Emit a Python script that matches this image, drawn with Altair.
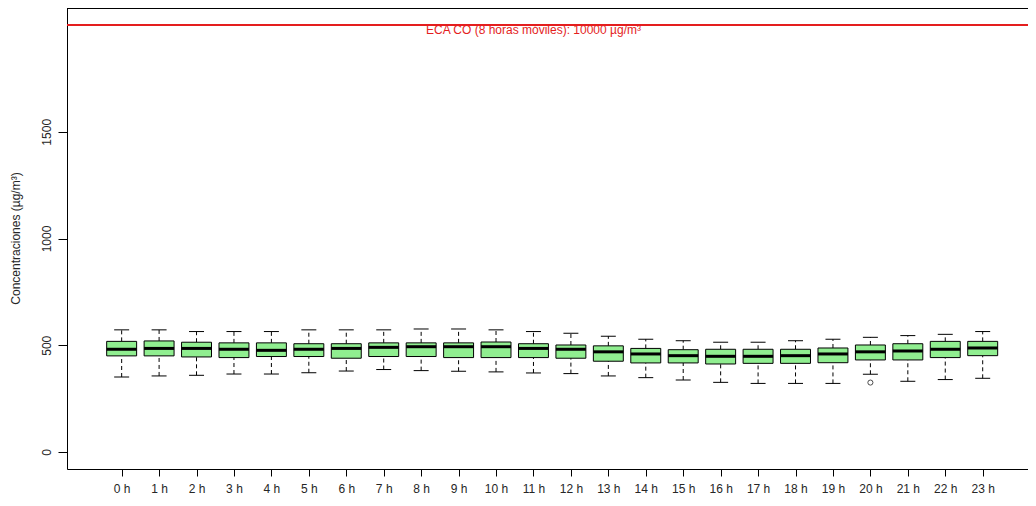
import altair as alt
import pandas as pd

hours = list(range(24))
upper = [572, 572, 564, 564, 564, 572, 572, 572, 576, 576, 572, 564, 556, 542, 528, 521, 514, 514, 521, 528, 537, 545, 551, 564]
q3 = [518, 520, 514, 511, 511, 507, 507, 511, 511, 511, 515, 507, 501, 497, 485, 479, 481, 481, 481, 487, 501, 507, 518, 518]
median = [481, 485, 485, 481, 476, 481, 485, 490, 493, 493, 493, 485, 481, 469, 459, 451, 448, 448, 451, 459, 469, 473, 481, 487]
q1 = [450, 450, 445, 442, 447, 447, 439, 447, 447, 442, 442, 442, 439, 425, 417, 417, 412, 415, 415, 418, 431, 431, 442, 451]
lower = [351, 356, 359, 365, 365, 371, 379, 386, 381, 378, 375, 370, 367, 356, 348, 337, 326, 321, 321, 321, 364, 331, 339, 345]
outlier_hours = [20]
outlier_values = [325]
y_ticks = [0, 500, 1000, 1500]
limit_value = [2000]
limit_label = ["ECA CO (8 horas móviles): 10000 µg/m³"]
limit_label_hour = [11]

FONT = "Liberation Sans"
TXT = "#262626"

df = pd.DataFrame(dict(hour=hours, lower=lower, q1=q1, median=median, q3=q3, upper=upper))
out_df = pd.DataFrame(dict(hour=outlier_hours, value=outlier_values))
lim_df = pd.DataFrame(dict(v=limit_value, hour=limit_label_hour, t=limit_label))

xs = alt.Scale(domain=[-1.46, 24.21], nice=False, zero=False)
ys = alt.Scale(domain=[-80, 2080], nice=False, zero=False)

x_axis = alt.Axis(values=hours, labelExpr="datum.value + ' h'", title=None, grid=False,
                  tickSize=7, labelPadding=7, domainColor="black", tickColor="black",
                  labelColor=TXT, labelFontSize=12, labelFont=FONT,
                  labelFontWeight="normal",
                  labelFlush=False, labelOverlap=False)
y_axis = alt.Axis(values=y_ticks, format="d", title="Concentraciones (µg/m³)", grid=False,
                  tickSize=9, labelPadding=5, labelAngle=270, labelAlign="center",
                  labelBaseline="bottom", domainColor="black", tickColor="black",
                  labelColor=TXT, labelFontSize=12, labelFont=FONT,
                  labelFontWeight="normal",
                  titleFont=FONT, titleFontSize=12, titleFontWeight="normal",
                  titleColor=TXT, titleAngle=270, titleAlign="center",
                  titleBaseline="bottom", titleX=-45, titleY=230)

base = alt.Chart(df).transform_calculate(
    xl="datum.hour - 0.4", xr="datum.hour + 0.4",
    cl="datum.hour - 0.2", cr="datum.hour + 0.2")

whisk_lo = base.mark_rule(color="black", strokeDash=[4, 3]).encode(
    x=alt.X("hour:Q", scale=xs, axis=x_axis),
    y=alt.Y("lower:Q", scale=ys, axis=y_axis), y2="q1:Q")
whisk_hi = base.mark_rule(color="black", strokeDash=[4, 3]).encode(
    x=alt.X("hour:Q", scale=xs), y=alt.Y("q3:Q", scale=ys), y2="upper:Q")
cap_lo = base.mark_rule(color="black").encode(
    x=alt.X("cl:Q", scale=xs), x2="cr:Q", y=alt.Y("lower:Q", scale=ys))
cap_hi = base.mark_rule(color="black").encode(
    x=alt.X("cl:Q", scale=xs), x2="cr:Q", y=alt.Y("upper:Q", scale=ys))
boxes = base.mark_bar(fill="#90EE90", stroke="black", strokeWidth=1).encode(
    x=alt.X("xl:Q", scale=xs), x2="xr:Q", y=alt.Y("q1:Q", scale=ys), y2="q3:Q")
med = base.mark_rule(color="black", strokeWidth=3).encode(
    x=alt.X("xl:Q", scale=xs), x2="xr:Q", y=alt.Y("median:Q", scale=ys))
outl = alt.Chart(out_df).mark_point(shape="circle", filled=False, color="black",
                                    size=26, strokeWidth=1).encode(
    x=alt.X("hour:Q", scale=xs), y=alt.Y("value:Q", scale=ys))

lim_line = alt.Chart(lim_df).mark_rule(color="#e41e1e", strokeWidth=2).encode(
    y=alt.Y("v:Q", scale=ys))
lim_text = alt.Chart(lim_df).mark_text(color="#e41e1e", font=FONT, fontSize=12,
                                       baseline="top", align="center", dy=0).encode(
    x=alt.X("hour:Q", scale=xs), y=alt.Y("v:Q", scale=ys), text="t:N")
top_border = alt.Chart(lim_df).mark_rule(color="black", strokeWidth=1).encode(
    y=alt.value(0.5))

chart = alt.layer(whisk_lo, whisk_hi, cap_lo, cap_hi, boxes, med, outl,
                  lim_line, lim_text, top_border).properties(
    width=961, height=461,
    autosize=alt.AutoSizeParams(type="none"),
    padding={"left": 59, "top": 0, "right": 0, "bottom": 26},
).configure_view(stroke=None).configure(font=FONT)

chart.save("out.html", embed_options={"renderer": "svg", "actions": False})
